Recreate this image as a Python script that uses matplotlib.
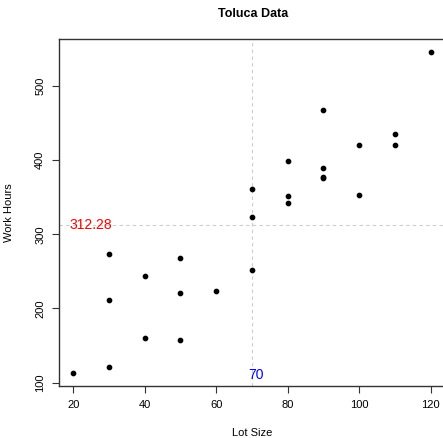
import numpy as np
import matplotlib
matplotlib.use('Agg')
import matplotlib.pyplot as plt

plt.rcParams['font.family'] = ['Liberation Sans', 'DejaVu Sans']

# ===== Toluca 数据 =====
lot_size = [80, 30, 50, 90, 70, 60, 120, 80, 100, 50, 40, 70, 90, 20, 110,
            100, 30, 50, 90, 110, 30, 90, 40, 80, 70]
work_hours = [399, 121, 221, 376, 361, 224, 546, 352, 353, 157, 160, 252, 389,
              113, 435, 420, 212, 268, 377, 421, 273, 468, 244, 342, 323]
x_ticks = [20, 40, 60, 80, 100, 120]
y_ticks = [100, 200, 300, 400, 500]

x = np.array(lot_size)
y = np.array(work_hours)
mx, my = x.mean(), y.mean()

fig = plt.figure(figsize=(4.43, 4.38), dpi=100)
ax = fig.add_axes([0.1332, 0.119, 0.871, 0.792])

ax.axvline(mx, color='#cccccc', linestyle=(0, (3, 3)), linewidth=0.8, zorder=1)
ax.axhline(my, color='#cccccc', linestyle=(0, (3, 3)), linewidth=0.8, zorder=1)
ax.plot(x, y, 'o', color='black', markersize=3.1, zorder=3)

ax.text(25, my, f'{my:.2f}', color='red', fontsize=10, ha='center', va='center')
ax.text(mx + 1, 110, f'{mx:.0f}', color='blue', fontsize=10, ha='center', va='center')

# R 默认 4% 边距
xr = x.max() - x.min()
yr = y.max() - y.min()
ax.set_xlim(x.min() - 0.04 * xr, x.max() + 0.04 * xr)
ax.set_ylim(y.min() - 0.04 * yr, y.max() + 0.04 * yr)

ax.set_xticks(x_ticks)
ax.set_yticks(y_ticks)
ax.tick_params(labelsize=8, length=5, width=0.8, pad=5, color='#333333')
for lab in ax.get_yticklabels():
    lab.set_rotation(90)
    lab.set_va('center')
for s in ax.spines.values():
    s.set_linewidth(1.0)
    s.set_color('#333333')

ax.set_xlabel('Lot Size', fontsize=8, labelpad=13)
ax.set_ylabel('Work Hours', fontsize=8, labelpad=15)
fig.text(0.572, 0.968, 'Toluca Data', fontsize=9, fontweight='bold',
         ha='center', va='center')

fig.savefig('out.png', dpi=100)
plt.close(fig)
